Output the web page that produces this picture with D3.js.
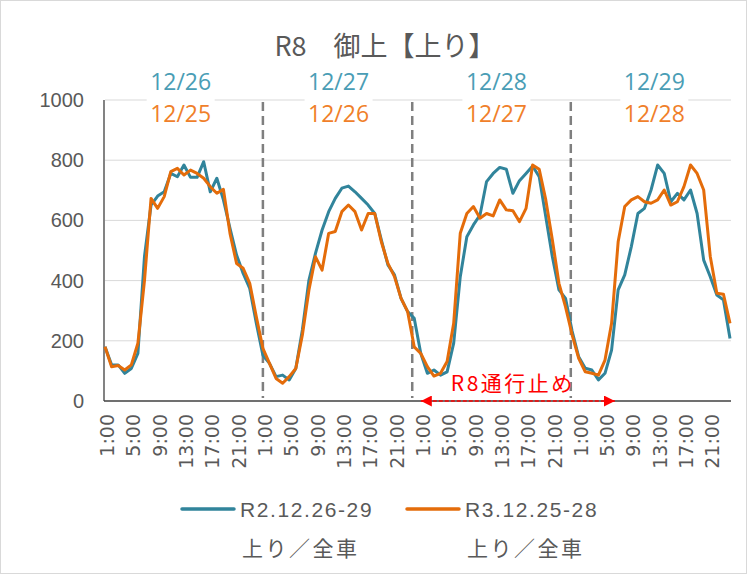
<!DOCTYPE html>
<html><head><meta charset="utf-8">
<script src="https://cdn.jsdelivr.net/npm/d3@7"></script>
<style>body{margin:0;background:#fff}</style>
</head><body><svg id="c" width="747" height="574"></svg>
<script>
const title = "R8\u3000御上【上り】";
const hours = ["1:00","2:00","3:00","4:00","5:00","6:00","7:00","8:00","9:00","10:00","11:00","12:00",
  "13:00","14:00","15:00","16:00","17:00","18:00","19:00","20:00","21:00","22:00","23:00","24:00"];
const datesR2 = ["12/26","12/27","12/28","12/29"];
const datesR3 = ["12/25","12/26","12/27","12/28"];
const seriesNames = ["R2.12.26-29","R3.12.25-28"];
const seriesSub = ["上り／全車","上り／全車"];
const tickHours = ["1:00","5:00","9:00","13:00","17:00","21:00"];
const yTicks = [0,200,400,600,800,1000];
// R2.12.26-29 (teal)
const r2Values = [
  180,120,120,92,108,158,480,651,681,695,756,745,784,743,743,795,695,740,668,574,485,424,374,258,
  152,125,81,86,70,108,236,402,491,568,629,673,707,714,695,673,651,623,535,452,419,341,297,275,
  158,92,103,86,97,192,413,546,585,618,729,756,776,770,690,732,756,781,745,612,479,369,341,232,
  147,109,103,70,92,169,369,419,513,623,640,701,784,756,662,690,668,701,623,468,413,352,336,208
];
// R3.12.25-28 (orange)
const r3Values = [
  180,114,118,103,120,192,400,673,640,679,762,773,751,767,756,740,712,690,703,557,457,441,391,280,
  175,125,75,59,81,108,219,369,479,435,557,563,629,651,629,568,623,623,529,457,413,341,297,180,
  158,114,83,92,131,258,557,623,646,607,623,615,668,635,632,596,640,784,770,668,535,391,313,220,
  142,97,92,86,136,258,529,646,668,679,662,657,668,701,651,662,712,784,756,701,480,358,355,258
];
const dividerPos = [24, 46.7, 70.8];      // category positions of the day dividers
const closureLabel = "R8通行止め";
const closureRange = [48, 77.5];           // category positions of the closure arrow

const tealLine = "#31849b", orangeLine = "#e46c0a";
const tealText = "#4a9db5", orangeText = "#f07f2a";
const grey = "#595959";

const svg = d3.select("#c");
svg.append("rect").attr("x", 0.5).attr("y", 0.5).attr("width", 746).attr("height", 573)
  .attr("fill", "#fff").attr("stroke", "#d9d9d9");
const cats = [];
datesR2.forEach((d, di) => hours.forEach(h => cats.push(di + "|" + h)));
const L = 105, R = 730, T = 100, B = 401;
const x = d3.scalePoint().domain(cats).range([L, R]).padding(0);
const xi = i => L + i * x.step();
const y = d3.scaleLinear().domain([0, 1000]).range([B, T]);

// gridlines
svg.append("g").selectAll("line").data(yTicks.filter(v => v > 0)).join("line")
  .attr("x1", L).attr("x2", R + 1).attr("y1", d => y(d)).attr("y2", d => y(d))
  .attr("stroke", "#d9d9d9").attr("stroke-width", 1);

// y axis labels
const ya = svg.append("g").attr("transform", `translate(${L - 1},0)`)
  .call(d3.axisLeft(y).tickValues(yTicks).tickFormat(d3.format("d")).tickSize(0).tickPadding(20));
ya.select(".domain").remove();
ya.selectAll("text").attr("font-family", "Liberation Sans, Arial, sans-serif")
  .attr("font-size", 20).attr("fill", grey);
svg.append("line").attr("x1", L - 1).attr("x2", L - 1).attr("y1", T).attr("y2", B)
  .attr("stroke", "#404040").attr("stroke-width", 1.3);

// x axis
const xa = svg.append("g").attr("transform", `translate(0,${B})`)
  .call(d3.axisBottom(x).tickValues(cats.filter(c => tickHours.includes(c.split("|")[1])))
    .tickFormat(c => c.split("|")[1]).tickSize(0));
xa.select(".domain").remove();
xa.selectAll("text").attr("font-family", "DejaVu Sans, sans-serif")
  .attr("font-size", 19).attr("fill", grey)
  .attr("transform", "rotate(-90)").attr("text-anchor", "end")
  .attr("x", -13).attr("y", 2).attr("dy", "0.35em");
svg.append("line").attr("x1", L - 1).attr("x2", R + 1).attr("y1", B).attr("y2", B)
  .attr("stroke", "#404040").attr("stroke-width", 1.3);

// day dividers
svg.append("g").selectAll("line").data(dividerPos).join("line")
  .attr("x1", d => xi(d)).attr("x2", d => xi(d)).attr("y1", T + 2).attr("y2", B - 3)
  .attr("stroke", "#7f7f7f").attr("stroke-width", 2.5).attr("stroke-dasharray", "9,5");

// closure annotation
svg.append("defs").html(`<marker id="ah" viewBox="0 0 10 10" refX="10" refY="5" markerWidth="11" markerHeight="11" markerUnits="userSpaceOnUse" orient="auto-start-reverse"><path d="M0,0L10,5L0,10z" fill="#ff0000"/></marker>`);
svg.append("line").attr("x1", xi(closureRange[0])).attr("x2", xi(closureRange[1]))
  .attr("y1", B).attr("y2", B).attr("stroke", "#ff0000").attr("stroke-width", 1.5)
  .attr("stroke-dasharray", "4,2").attr("marker-start", "url(#ah)").attr("marker-end", "url(#ah)");
svg.append("text").attr("x", (xi(closureRange[0]) + xi(closureRange[1])) / 2 - 5).attr("y", 382)
  .attr("dominant-baseline", "central").attr("text-anchor", "middle")
  .attr("font-family", "Noto Sans CJK JP").attr("font-size", 21).attr("letter-spacing", 2.5)
  .attr("fill", "#ff0000").text(closureLabel);

// series
const line = d3.line().x((d, i) => x(cats[i])).y(d => y(d));
[[r2Values, tealLine], [r3Values, orangeLine]].forEach(([vals, col]) => {
  svg.append("path").datum(vals).attr("d", line).attr("fill", "none")
    .attr("stroke", col).attr("stroke-width", 3).attr("stroke-linejoin", "round");
});

// date labels
const dayCenter = di => xi(di * hours.length + (hours.length - 1) / 2);
datesR2.forEach((d, di) => {
  svg.append("text").attr("x", dayCenter(di)).attr("y", 81).attr("text-anchor", "middle")
    .attr("dominant-baseline", "central").attr("font-family", "Open Sans").attr("font-size", 23)
    .attr("fill", tealText).text(d);
});
datesR3.forEach((d, di) => {
  svg.append("rect").attr("x", dayCenter(di) - 34).attr("y", 99).attr("width", 68).attr("height", 28).attr("fill", "#fff");
  svg.append("text").attr("x", dayCenter(di)).attr("y", 113).attr("text-anchor", "middle")
    .attr("dominant-baseline", "central").attr("font-family", "Open Sans").attr("font-size", 23)
    .attr("fill", orangeText).text(d);
});

// title
svg.append("text").attr("x", 385).attr("y", 44).attr("text-anchor", "middle")
  .attr("dominant-baseline", "central").attr("font-family", "Noto Sans CJK JP")
  .attr("font-size", 27).attr("fill", grey).text(title);

// legend
const legX = [182, 407];
[tealLine, orangeLine].forEach((col, k) => {
  const g = svg.append("g");
  g.append("line").attr("x1", legX[k]).attr("x2", legX[k] + 52).attr("y1", 509).attr("y2", 509)
    .attr("stroke", col).attr("stroke-width", 3.5).attr("stroke-linecap", "round");
  g.append("text").attr("x", legX[k] + 58).attr("y", 509).attr("dominant-baseline", "central")
    .attr("font-family", "Liberation Sans, Arial, sans-serif").attr("font-size", 21)
    .attr("letter-spacing", 1.6).attr("fill", grey).text(seriesNames[k]);
  g.append("text").attr("x", legX[k] + 60).attr("y", 547).attr("dominant-baseline", "central")
    .attr("font-family", "Noto Sans CJK JP").attr("font-size", 21)
    .attr("letter-spacing", 2.5).attr("fill", grey).text(seriesSub[k]);
});
</script></body></html>
